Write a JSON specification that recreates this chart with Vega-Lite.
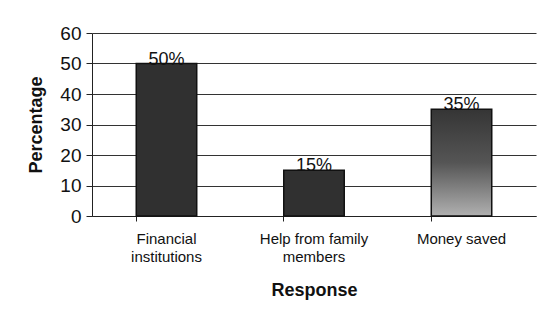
{
  "$schema": "https://vega.github.io/schema/vega-lite/v6.json",
  "width": 444,
  "height": 183,
  "autosize": "none",
  "padding": {"left": 92, "top": 33, "right": 7, "bottom": 106},
  "background": "white",
  "config": {"view": {"stroke": null}, "font": "Liberation Sans"},
  "data": {"values": [
    {"response": "Financial institutions", "pct": 50, "label": "50%"},
    {"response": "Help from family members", "pct": 15, "label": "15%"},
    {"response": "Money saved", "pct": 35, "label": "35%"}
  ]},
  "encoding": {
    "x": {"field": "response", "type": "nominal", "sort": null,
      "scale": {"paddingInner": 0.59, "paddingOuter": 0.3},
      "axis": {"title": "Response", "titleFontSize": 18, "titleFontWeight": "bold", "titleColor": "#111", "titlePadding": 17,
        "labelAngle": 0, "labelFontSize": 15, "labelColor": "#111", "labelPadding": 10, "labelLineHeight": 18,
        "labelExpr": "datum.value == 'Financial institutions' ? ['Financial', 'institutions'] : datum.value == 'Help from family members' ? ['Help from family', 'members'] : datum.value",
        "bandPosition": 0, "tickSize": 5, "tickColor": "#222", "domainColor": "#222", "grid": false}},
    "y": {"field": "pct", "type": "quantitative",
      "scale": {"domain": [0, 60]},
      "axis": {"title": "Percentage", "titleFontSize": 18, "titleFontWeight": "bold", "titleColor": "#111", "titlePadding": 14,
        "values": [0, 10, 20, 30, 40, 50, 60], "labelFontSize": 19, "labelColor": "#111", "labelPadding": 5,
        "tickSize": 6, "tickColor": "#222", "domainColor": "#222", "gridColor": "#333", "gridWidth": 1}}
  },
  "layer": [
    {"transform": [{"filter": "datum.response != 'Money saved'"}],
     "mark": {"type": "bar", "color": "#303030", "stroke": "#111", "strokeWidth": 1.5}},
    {"transform": [{"filter": "datum.response == 'Money saved'"}],
     "mark": {"type": "bar", "stroke": "#111", "strokeWidth": 1.5,
       "color": {"gradient": "linear", "x1": 0, "y1": 0, "x2": 0, "y2": 1,
         "stops": [{"offset": 0, "color": "#353535"}, {"offset": 0.5, "color": "#555555"}, {"offset": 1, "color": "#b0b0b0"}]}}},
    {"mark": {"type": "text", "baseline": "bottom", "dy": 5, "fontSize": 18, "color": "#111"},
     "encoding": {"text": {"field": "label", "type": "nominal"}}}
  ]
}
